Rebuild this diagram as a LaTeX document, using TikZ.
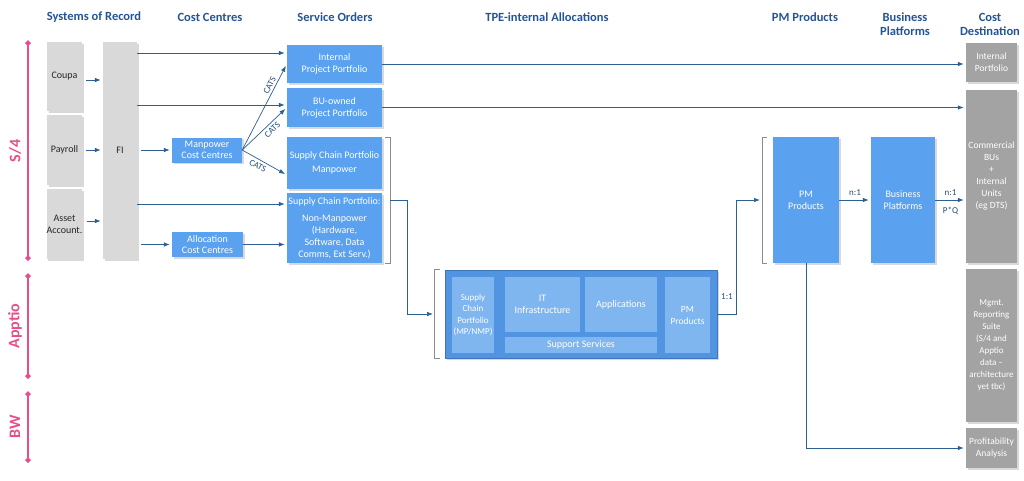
\documentclass[tikz,border=0pt]{standalone}
\usepackage{fontspec}
\setmainfont{Carlito}
\usetikzlibrary{arrows.meta,shadows}
\definecolor{hdrblue}{RGB}{36,84,150}
\definecolor{boxblue}{RGB}{90,161,240}
\definecolor{tpeblue}{RGB}{80,148,226}
\definecolor{tpelight}{RGB}{128,182,240}
\definecolor{srcgray}{RGB}{217,217,217}
\definecolor{destgray}{RGB}{163,163,163}
\definecolor{linkblue}{RGB}{45,95,145}
\definecolor{brkgray}{RGB}{140,140,140}
\definecolor{syspink}{RGB}{232,78,140}
\begin{document}
\begin{tikzpicture}[x=1pt,y=-1pt,
    every node/.style={font=\fontsize{10}{12}\selectfont, align=center, inner sep=0pt},
    hdr/.style={font=\fontsize{12.5}{14}\selectfont\bfseries, text=hdrblue},
    shad/.style={drop shadow={opacity=0.3, shadow xshift=1.5pt, shadow yshift=-1.5pt}},
    srcbox/.style={shad, fill=srcgray, minimum width=35pt, text=black!85},
    bluebox/.style={shad, fill=boxblue, text=white},
    tpebox/.style={shad, fill=tpeblue, draw=tpeblue!80!black, line width=0.6pt},
    tpein/.style={fill=tpelight, text=white},
    destbox/.style={shad, fill=destgray, minimum width=51pt, text=white, font=\fontsize{9.5}{12}\selectfont},
    lbl/.style={text=linkblue!80!black, font=\fontsize{9}{11}\selectfont},
    arr/.style={draw=linkblue, line width=0.7pt, -{Latex[length=6pt,width=4.5pt]}, shorten >=2pt},
    brk/.style={draw=brkgray, line width=0.6pt},
    sysbar/.style={draw=syspink, line width=2.5pt, {Diamond[length=6pt,width=6pt]}-{Diamond[length=6pt,width=6pt]}},
    syslbl/.style={font=\fontsize{16}{18}\selectfont\bfseries, text=syspink, rotate=90}
]
\useasboundingbox (0,0) rectangle (1024,480);

\node[hdr] (hsor) at (94,17) {Systems of Record};
\node[hdr] (hcc) at (210,17) {Cost Centres};
\node[hdr] (hso) at (335,17) {Service Orders};
\node[hdr] (htpe) at (547,17) {TPE-internal Allocations};
\node[hdr] (hpm) at (805,17) {PM Products};
\node[hdr] (hbp) at (905,24) {Business\\Platforms};
\node[hdr] (hcd) at (990,24) {Cost\\Destination};

\draw[sysbar] (28,40) -- (28,261);
\draw[sysbar] (28,273) -- (28,379);
\draw[sysbar] (28,391) -- (28,463);
\node[syslbl] (s4) at (15,151) {S/4};
\node[syslbl] (apptio) at (15,326) {Apptio};
\node[syslbl] (bw) at (15,427) {BW};

\node[srcbox, minimum height=69pt] (coupa) at (64.5,76.5) {Coupa};
\node[srcbox, minimum height=70pt] (payroll) at (64.5,150) {Payroll};
\node[srcbox, minimum height=70pt] (asset) at (64.5,224) {Asset\\Account.};
\node[srcbox, minimum width=34pt, minimum height=217pt] (fi) at (120,150.5) {FI};

\node[bluebox, minimum width=70pt, minimum height=25pt, font=\fontsize{10}{11}\selectfont] (mcc) at (207,150) {Manpower\\Cost Centres};
\node[bluebox, minimum width=71pt, minimum height=25pt, font=\fontsize{10}{11}\selectfont] (acc) at (207.5,244.5) {Allocation\\Cost Centres};

\node[bluebox, minimum width=95pt, minimum height=38pt] (ipp) at (334.5,64) {Internal\\Project Portfolio};
\node[bluebox, minimum width=95pt, minimum height=39pt] (bupp) at (334.5,107.5) {BU-owned\\Project Portfolio};
\node[bluebox, minimum width=95pt, minimum height=52pt] (scpm) at (334.5,163) {Supply Chain Portfolio\\[2pt]Manpower};
\node[bluebox, minimum width=95pt, minimum height=70pt] (scpn) at (334.5,228) {Supply Chain Portfolio:\\[5pt]Non-Manpower\\(Hardware,\\Software, Data\\Comms, Ext Serv.)};

\node[tpebox, minimum width=272pt, minimum height=88pt] (tpe) at (581,314) {};
\node[tpein, minimum width=42pt, minimum height=76pt, font=\fontsize{9}{11.5}\selectfont] (tscp) at (473,315) {Supply\\Chain\\Portfolio\\(MP/NMP)};
\node[tpein, minimum width=75pt, minimum height=55pt] (itinf) at (542.5,304.5) {IT\\Infrastructure};
\node[tpein, minimum width=72pt, minimum height=55pt] (apps) at (621,304.5) {Applications};
\node[tpein, minimum width=152pt, minimum height=16pt] (supp) at (581,345) {Support Services};
\node[tpein, minimum width=45pt, minimum height=76pt, font=\fontsize{9.5}{12}\selectfont] (tpm) at (687.5,315) {PM\\Products};

\node[bluebox, minimum width=66pt, minimum height=126pt] (pm) at (806,200) {PM\\Products};
\node[bluebox, minimum width=64pt, minimum height=126pt] (bp) at (903,200) {Business\\Platforms};

\node[destbox, minimum height=39pt] (intp) at (991.5,62.5) {Internal\\Portfolio};
\node[destbox, minimum height=173pt] (comm) at (991.5,176.5) {Commercial\\BUs\\+\\Internal\\Units\\(eg DTS)};
\node[destbox, minimum height=153pt, font=\fontsize{9}{12}\selectfont] (mgmt) at (991.5,345.5) {Mgmt.\\Reporting\\Suite\\(S/4 and\\Apptio\\data --\\architecture\\yet tbc)};
\node[destbox, minimum height=40pt] (prof) at (991.5,448) {Profitability\\Analysis};

\draw[arr] ([xshift=4pt]coupa.east |- 0,80) -- (fi.west |- 0,80);
\draw[arr] ([xshift=4pt]payroll.east) -- (fi.west |- payroll.east);
\draw[arr] ([xshift=4pt]asset.east |- 0,221) -- (fi.west |- 0,221);
\draw[arr] ([xshift=4pt]fi.east |- mcc.west) -- (mcc.west);
\draw[arr] ([xshift=4pt]fi.east |- acc.west) -- (acc.west);
\draw[arr] (fi.east |- 0,53) -- (ipp.west |- 0,53);
\draw[arr] (fi.east |- 0,105) -- (bupp.west |- 0,105);
\draw[arr] (fi.east |- 0,204) -- (scpn.west |- 0,204);
\draw[arr] (acc.east) -- (scpn.west |- acc.east);

\draw[arr] (mcc.east) -- node[lbl, sloped, above=2pt, pos=0.72] {CATS} (ipp.west);
\draw[arr] (mcc.east) -- node[lbl, sloped, below=3pt, pos=0.58] {CATS} (bupp.west);
\draw[arr] (mcc.east) -- node[lbl, sloped, below=3pt, pos=0.42] {CATS} (scpm.west |- 0,175);

\draw[brk] ([xshift=3pt]scpm.north east) -- ++(5,0) -- ([xshift=8pt]scpn.south east) -- ++(-5,0);
\coordinate (scpbr) at (390,200);
\draw[brk] ([xshift=-5pt]tpe.north west) -- ++(-5,0) -- ([xshift=-10pt]tpe.south west) -- ++(5,0);
\coordinate (tpebr) at (435,314);
\draw[brk] ([xshift=-6pt]pm.north west) -- ++(-5,0) -- ([xshift=-11pt]pm.south west) -- ++(5,0);
\coordinate (pmbr) at (762,200);

\draw[arr] (scpbr) -- ++(17,0) |- (tpebr);
\draw[arr] (tpe.east) -- ++(19,0) |- (pmbr);
\node[lbl] (r11) at (727,297) {1:1};

\draw[arr] (pm) -- node[lbl, above=4pt] {n:1} (bp);
\draw[arr] (bp.east) -- node[lbl, above=4pt] {n:1} node[lbl, below=7pt] {P*Q} (comm.west |- bp.east);
\draw[arr] (ipp.east) -- (intp.west |- ipp.east);
\draw[arr] (bupp.east) -- (comm.west |- bupp.east);
\draw[arr] (pm.south) |- (prof.west);
\end{tikzpicture}
\end{document}
